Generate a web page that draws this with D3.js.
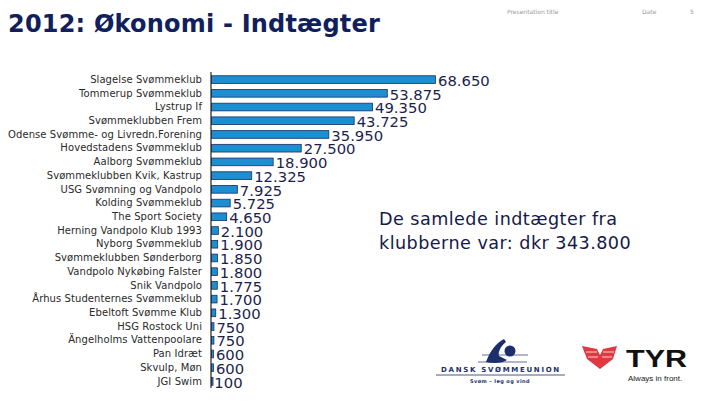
<!DOCTYPE html>
<html>
<head>
<meta charset="utf-8">
<script src="https://cdn.jsdelivr.net/npm/d3@7"></script>
<style>
  body { margin: 0; background: #fff; }
  svg { display: block; font-family: "DejaVu Sans", Verdana, sans-serif; }
</style>
</head>
<body>
<svg id="chart"></svg>
<script>
// Income per club, 2012 (dkr)
const clubs = [
  "Slagelse Svømmeklub", "Tommerup Svømmeklub", "Lystrup If", "Svømmeklubben Frem",
  "Odense Svømme- og Livredn.Forening", "Hovedstadens Svømmeklub", "Aalborg Svømmeklub",
  "Svømmeklubben Kvik, Kastrup", "USG Svømning og Vandpolo", "Kolding Svømmeklub",
  "The Sport Society", "Herning Vandpolo Klub 1993", "Nyborg Svømmeklub",
  "Svømmeklubben Sønderborg", "Vandpolo Nykøbing Falster", "Snik Vandpolo",
  "Århus Studenternes Svømmeklub", "Ebeltoft Svømme Klub", "HSG Rostock Uni",
  "Ängelholms Vattenpoolare", "Pan Idræt", "Skvulp, Møn", "JGI Swim"
];
const income = [68650, 53875, 49350, 43725, 35950, 27500, 18900, 12325, 7925, 5725,
  4650, 2100, 1900, 1850, 1800, 1775, 1700, 1300, 750, 750, 600, 600, 100];
const valueLabels = ["68.650", "53.875", "49.350", "43.725", "35.950", "27.500", "18.900",
  "12.325", "7.925", "5.725", "4.650", "2.100", "1.900", "1.850", "1.800", "1.775",
  "1.700", "1.300", "750", "750", "600", "600", "100"];

const title = "2012: Økonomi - Indtægter";
const noteLines = ["De samlede indtægter fra", "klubberne var: dkr 343.800"];

const W = 720, H = 405;
const svg = d3.select("#chart").attr("width", W).attr("height", H);

const navy = "#10205c";

// Header
svg.append("text")
  .attr("x", 8).attr("y", 32)
  .attr("font-size", 24).attr("font-weight", "bold")
  .attr("letter-spacing", 0.2)
  .attr("fill", navy)
  .text(title);

const header = svg.append("g").attr("fill", "#9a9a9a").attr("font-size", 6);
header.append("text").attr("x", 507).attr("y", 14).text("Presentation title");
header.append("text").attr("x", 642).attr("y", 14).text("Date");
header.append("text").attr("x", 690).attr("y", 14).text("5");

// Bars
const x = d3.scaleLinear().domain([0, 68650]).range([211, 435]);
const y = d3.scaleBand().domain(clubs).range([73, 388]).paddingInner(0.44).paddingOuter(0.2);

svg.append("g").selectAll("rect")
  .data(clubs)
  .join("rect")
  .attr("x", x(0) + 0.5)
  .attr("y", d => y(d))
  .attr("width", (d, i) => Math.max(1.5, x(income[i]) - x(0)))
  .attr("height", y.bandwidth())
  .attr("fill", "#1b8fd0")
  .attr("stroke", "#1a2f66")
  .attr("stroke-width", 0.8);

// Category axis
const yAxis = svg.append("g")
  .attr("transform", `translate(${x(0)},0)`)
  .call(d3.axisLeft(y).tickSize(0).tickPadding(9));
yAxis.select(".domain").attr("d", "M0,72V388").attr("stroke", "#222").attr("stroke-width", 1.2);
yAxis.selectAll("text")
  .attr("font-size", 10)
  .attr("letter-spacing", 0.08)
  .attr("font-family", "DejaVu Sans, Verdana, sans-serif")
  .attr("fill", "#2a2a2a");

// Value labels
svg.append("g").selectAll("text")
  .data(clubs)
  .join("text")
  .attr("x", (d, i) => x(income[i]) + 3)
  .attr("y", d => y(d) + y.bandwidth() / 2)
  .attr("dy", "0.42em")
  .attr("font-size", 14.8)
  .attr("fill", "#1c1f4e")
  .text((d, i) => valueLabels[i]);

// Note
svg.append("g").selectAll("text")
  .data(noteLines)
  .join("text")
  .attr("x", 379)
  .attr("y", (d, i) => 225 + i * 24)
  .attr("font-size", 17.6)
  .attr("letter-spacing", 0.45)
  .attr("fill", "#141a4a")
  .text(d => d);

// Dansk Svømmeunion logo (simplified)
const dsu = svg.append("g").attr("fill", "#1d2f6b");
dsu.append("circle").attr("cx", 510).attr("cy", 351).attr("r", 5.5);
dsu.append("path").attr("d", "M486,362 C490,351 496,343 504,339 L506,342 C500,347 498,352 499,356 L507,360 C503,363 494,364 486,362 Z");
dsu.append("path").attr("d", "M482,355 H528 M478,362 H527").attr("stroke", "#1d2f6b").attr("stroke-width", 0.7);
dsu.append("path").attr("d", "M436,375 H565").attr("stroke", "#1d2f6b").attr("stroke-width", 0.8);
dsu.append("text").attr("x", 501).attr("y", 372).attr("text-anchor", "middle")
  .attr("font-size", 7).attr("font-weight", "bold").attr("letter-spacing", 1.7).text("DANSK SVØMMEUNION");
dsu.append("text").attr("x", 500).attr("y", 383).attr("text-anchor", "middle")
  .attr("font-size", 5).attr("font-weight", "bold").attr("letter-spacing", 0.4).text("Svøm – leg og vind");

// TYR logo (simplified)
const tyr = svg.append("g");
tyr.append("path")
  .attr("d", "M582,346 L597,349 L600,355 L603,349 L617,346 L613,359 L600,369 L587,359 Z")
  .attr("fill", "#e0393f");
tyr.append("path")
  .attr("d", "M586,352 H597 M588,357 H598 M603,352 H614 M602,357 H612")
  .attr("stroke", "#fff").attr("stroke-width", 0.8);
tyr.append("text").attr("x", 626).attr("y", 367).attr("font-size", 23).attr("font-weight", "bold")
  .attr("font-family", "Liberation Sans, Arial, sans-serif").attr("fill", "#111")
  .attr("textLength", 61).attr("lengthAdjust", "spacingAndGlyphs").text("TYR");
tyr.append("text").attr("x", 628).attr("y", 381).attr("font-size", 8)
  .attr("font-family", "Liberation Sans, Arial, sans-serif").attr("fill", "#222").text("Always in front.");
</script>
</body>
</html>
